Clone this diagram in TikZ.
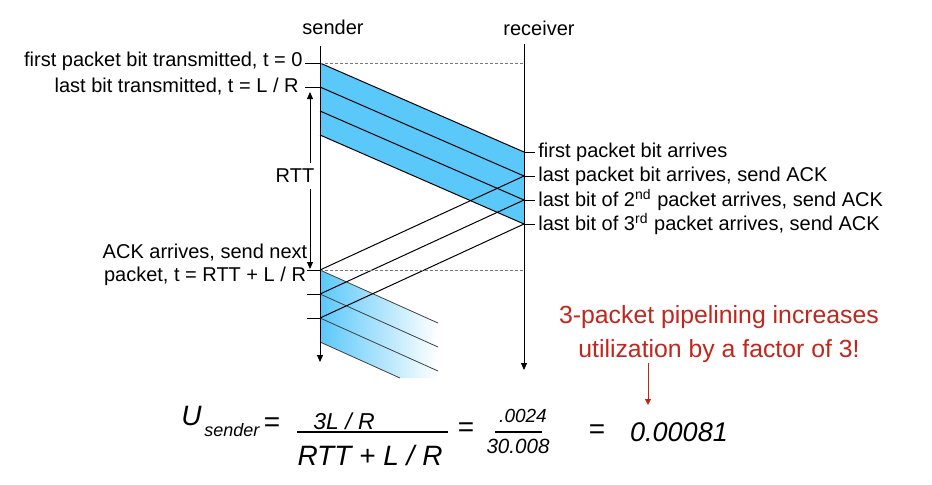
\documentclass[tikz,border=0pt]{standalone}
\usepackage{fontspec}
\setmainfont{Liberation Sans}
\usepackage{xcolor}
\usepackage{tikz}
\usetikzlibrary{arrows.meta}
\definecolor{PktBlue}{RGB}{91,200,250}
\definecolor{NoteRed}{RGB}{192,38,30}
\definecolor{DashGray}{RGB}{120,120,120}

\begin{document}
\begin{tikzpicture}[x=0.5pt, y=-0.5pt,
          lbl/.style={font=\fontsize{10}{11.5}\selectfont, inner sep=0pt},
          tl/.style={-{Triangle[length=3.5pt, width=3pt]}, line width=0.5pt},
          rtt/.style={{Triangle[length=3.5pt, width=3pt]}-{Triangle[length=3.5pt, width=3pt]}, line width=0.5pt},
          pkt/.style={draw=black, line width=0.5pt},
          fade/.style={draw=black!75, line width=0.4pt},
          dsh/.style={draw=DashGray, line width=0.5pt, dash pattern=on 1.5pt off 1pt},
          eqsign/.style={font=\fontsize{14}{16}\selectfont, inner sep=0pt},
          eqtxt/.style={inner sep=0pt, anchor=base},
          bar/.style={line width=1pt},
          note/.style={font=\fontsize{12.4}{17}\selectfont, text=NoteRed, align=center, inner sep=0pt},
          redarr/.style={-{Triangle[length=3pt, width=3pt]}, draw=NoteRed, line width=0.5pt}
        ]
        \useasboundingbox (0,0) rectangle (932,484);

        % Timelines
        \node[lbl] (snd) at (333,27) {sender};
        \node[lbl] (rcv) at (539,28) {receiver};
        \coordinate (sTop) at (320,46);
        \coordinate (sEnd) at (320,362);
        \coordinate (rTop) at (524,44);
        \coordinate (rEnd) at (524,370);

        % Packets leaving the sender / reaching the receiver
        \coordinate (s0) at (320,63);
        \coordinate (s1) at (320,87);
        \coordinate (s2) at (320,111);
        \coordinate (s3) at (320,135);
        \coordinate (r0) at (524,152);
        \coordinate (r1) at (524,176);
        \coordinate (r2) at (524,200);
        \coordinate (r3) at (524,224);
        \fill[PktBlue] (s0) -- (r0) -- (r3) -- (s3) -- cycle;
        \foreach \i in {0,...,3}
          \draw[pkt] (s\i) -- (r\i);

        % Next packets (fading out)
        \coordinate (a1) at (320,270);
        \coordinate (a2) at (320,294);
        \coordinate (a3) at (320,318);
        \coordinate (a4) at (320,342);
        \shade[left color=PktBlue, right color=white]
              (a1) -- (438,323) -- (438,378) -- (400,378) -- (a4) -- cycle;
        \draw[fade] (a1) -- (438,323);
        \draw[fade] (a2) -- (438,347);
        \draw[fade] (a3) -- (438,371);
        \draw[fade] (a4) -- (400,378);

        % ACKs
        \draw[pkt] (r1) -- (a1);
        \draw[pkt] (r2) -- (a2);
        \draw[pkt] (r3) -- (a3);

        \draw[dsh] (s0) -- (s0 -| rTop);
        \draw[dsh] (a1) -- (a1 -| rTop);
        \draw[tl] (sTop) -- (sEnd);
        \draw[tl] (rTop) -- (rEnd);

        % Sender side labels
        \node[lbl, anchor=east] (tfirst) at (303,61) {first packet bit transmitted, t = 0};
        \node[lbl, anchor=east] (tlast) at (299,87) {last bit transmitted, t = L / R};
        \draw[pkt] (s0) -- ++(-15,0);
        \draw[pkt] (s1) -- ++(-15,0);
        \foreach \i in {1,...,3}
          \draw[pkt] (a\i) -- ++(-13,0);
        \coordinate (rttA) at (310,92);
        \coordinate (rttB) at (310,269);
        \draw[rtt] (rttA) -- (rttB);
        \node[lbl, fill=white, inner ysep=3pt, inner xsep=1pt] (rttl) at (295,176) {RTT};
        \node[lbl, align=center] (ackl) at (205,265) {ACK arrives, send next\\packet, t = RTT + L / R};

        % Receiver side labels
        \foreach \i/\txt in {0/{first packet bit arrives},
                             1/{last packet bit arrives, send ACK},
                             2/{last bit of 2\textsuperscript{nd} packet arrives, send ACK},
                             3/{last bit of 3\textsuperscript{rd} packet arrives, send ACK}}{
          \draw[pkt] (r\i) -- ++(11,0);
          \node[lbl, anchor=west, xshift=7pt] (arr\i) at (r\i) {\txt};
        }

        % Utilization
        \node[eqtxt, anchor=base west, font=\fontsize{14}{16}\selectfont\itshape] (uu) at (181,425) {U};
        \node[eqtxt, anchor=base west, font=\fontsize{9}{10}\selectfont\itshape] (usub) at (204,436) {sender};
        \node[eqsign] (eq1) at (272,425) {=};
        \draw[bar] (297,432) -- (448,432);
        \node[eqtxt, font=\fontsize{11.5}{12}\selectfont\itshape] (num1) at (344,429) {3L / R};
        \node[eqtxt, font=\fontsize{14}{16}\selectfont\itshape] (den1) at (370,465) {RTT + L / R};
        \node[eqsign] (eq2) at (466,430) {=};
        \draw[bar] (495,432) -- (542,432);
        \node[eqtxt, font=\fontsize{9.5}{11}\selectfont\itshape] (num2) at (523,422) {.0024};
        \node[eqtxt, font=\fontsize{10.3}{12}\selectfont\itshape] (den2) at (518,453) {30.008};
        \node[eqsign] (eq3) at (597,432) {=};
        \node[eqtxt, font=\fontsize{13.5}{15}\selectfont\itshape] (res) at (679,441) {0.00081};

        % Note
        \node[note] (note) at (719,334) {3-packet pipelining increases\\utilization by a factor of 3!};
        \coordinate (noteTip) at (648,405);
        \draw[redarr] (note.south -| noteTip) -- (noteTip);
      \end{tikzpicture}
\end{document}
